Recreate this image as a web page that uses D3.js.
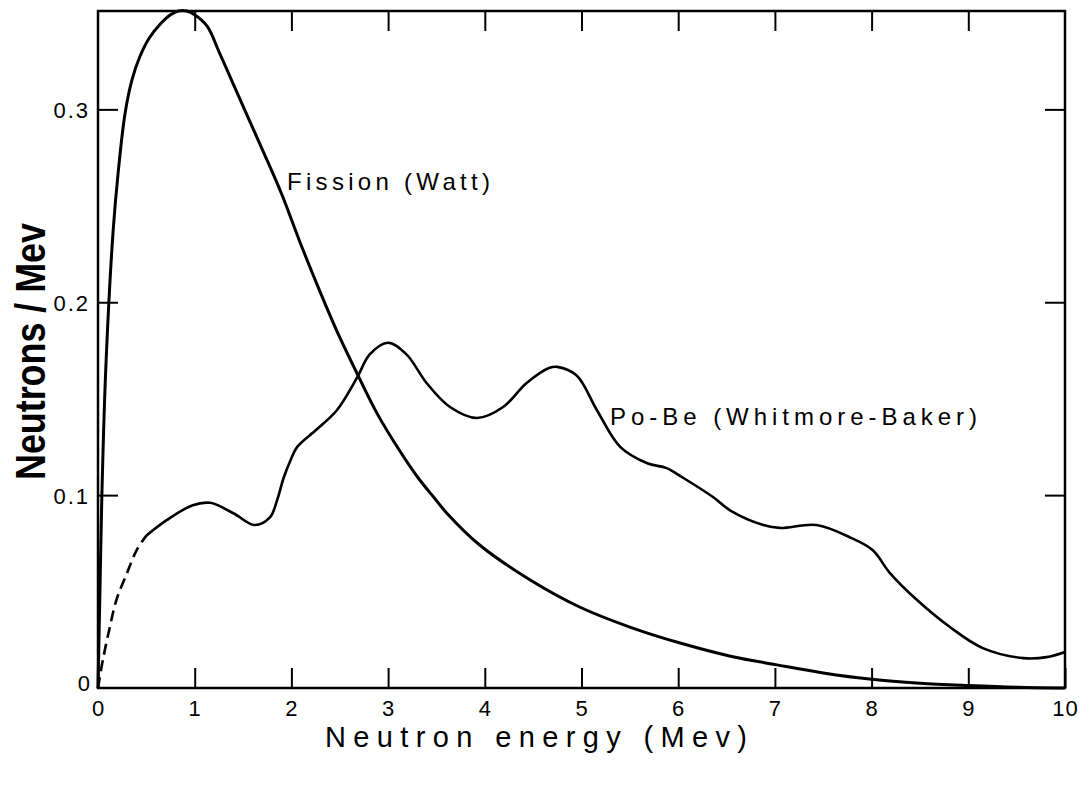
<!DOCTYPE html>
<html>
<head>
<meta charset="utf-8">
<script src="https://cdn.jsdelivr.net/npm/d3@7"></script>
<style>
  html, body { margin: 0; padding: 0; background: #fff; }
  svg { display: block; }
  text { font-family: "Liberation Sans", "DejaVu Sans", sans-serif; fill: #000; }
</style>
</head>
<body>
<svg id="chart" width="1088" height="789"></svg>
<script>
// ---- data ----
const xTicks = [0, 1, 2, 3, 4, 5, 6, 7, 8, 9, 10];
const xTickLabels = ["0", "1", "2", "3", "4", "5", "6", "7", "8", "9", "10"];
const yTicks = [0, 0.1, 0.2, 0.3];
const yTickLabels = ["0", "0.1", "0.2", "0.3"];

const fissionE = [0, 0.02, 0.04, 0.08, 0.155, 0.21, 0.28, 0.35, 0.43, 0.53, 0.64, 0.75, 0.83, 0.92, 1.0, 1.13, 1.25, 1.40, 1.55, 1.71, 1.9, 2.09, 2.3, 2.48, 2.68, 2.89, 3.12, 3.31, 3.47, 3.61, 3.95, 4.47, 4.98, 5.50, 6.02, 6.54, 7.02, 7.5, 8.0, 8.5, 9.0, 9.5, 10];
const fissionN = [0, 0.05, 0.1, 0.165, 0.236, 0.268, 0.298, 0.315, 0.327, 0.337, 0.344, 0.349, 0.351, 0.351, 0.349, 0.343, 0.330, 0.313, 0.296, 0.278, 0.256, 0.231, 0.205, 0.184, 0.163, 0.142, 0.123, 0.109, 0.099, 0.0905, 0.074, 0.056, 0.042, 0.0316, 0.0233, 0.0165, 0.012, 0.0078, 0.0045, 0.0025, 0.0013, 0.0004, 0];

const pobeDashE = [0, 0.05, 0.12, 0.19, 0.30, 0.40, 0.50];
const pobeDashN = [0, 0.0145, 0.031, 0.0456, 0.0596, 0.0715, 0.079];

const pobeE = [0.50, 0.71, 0.98, 1.16, 1.40, 1.62, 1.78, 1.85, 1.92, 1.99, 2.06, 2.26, 2.47, 2.68, 2.81, 3.0, 3.19, 3.40, 3.64, 3.92, 4.19, 4.43, 4.67, 4.75, 4.95, 5.16, 5.40, 5.68, 5.88, 6.05, 6.36, 6.54, 6.88, 7.05, 7.43, 7.78, 8.01, 8.19, 8.47, 8.81, 9.15, 9.57, 9.81, 10.0];
const pobeN = [0.079, 0.087, 0.0948, 0.096, 0.0906, 0.0845, 0.0886, 0.097, 0.109, 0.118, 0.125, 0.134, 0.144, 0.161, 0.173, 0.179, 0.173, 0.158, 0.1457, 0.140, 0.1457, 0.158, 0.166, 0.1665, 0.162, 0.144, 0.125, 0.1165, 0.114, 0.109, 0.099, 0.092, 0.0845, 0.083, 0.0845, 0.078, 0.0715, 0.0596, 0.0456, 0.0316, 0.0207, 0.0155, 0.016, 0.0187];

const xLabel = "Neutron energy (Mev)";
const yLabel = "Neutrons / Mev";
const fissionLabel = "Fission (Watt)";
const pobeLabel = "Po-Be (Whitmore-Baker)";

// ---- layout ----
const W = 1088, H = 789;
const margin = { left: 98, right: 23, top: 11, bottom: 101 };
const iw = W - margin.left - margin.right;
const ih = H - margin.top - margin.bottom;

const svg = d3.select("#chart");
const g = svg.append("g").attr("transform", `translate(${margin.left},${margin.top})`);

const x = d3.scaleLinear().domain([0, 10]).range([0, iw]);
const y = d3.scaleLinear().domain([0, 0.351]).range([ih, 0]);

const tickLen = 20;
const tickFont = "22px";

const styleAxis = sel => {
  sel.select(".domain").remove();
  sel.selectAll(".tick line").attr("stroke", "#000").attr("stroke-width", 2);
};

g.append("g").attr("transform", `translate(0,${ih})`)
  .call(d3.axisBottom(x).tickValues(xTicks).tickSize(-tickLen).tickPadding(0)
        .tickFormat((d, i) => xTickLabels[i]))
  .call(styleAxis)
  .call(s => s.attr("font-size", null).attr("font-family", null))
  .call(s => s.selectAll(".tick text").attr("y", 28).attr("dy", 0)
        .style("font-size", tickFont).style("letter-spacing", "1px"));

g.append("g")
  .call(d3.axisTop(x).tickValues(xTicks.slice(1, -1)).tickSize(-tickLen).tickFormat(""))
  .call(styleAxis);

g.append("g")
  .call(d3.axisLeft(y).tickValues(yTicks.slice(1)).tickSize(-tickLen).tickPadding(0)
        .tickFormat((d, i) => yTickLabels[i + 1]))
  .call(styleAxis)
  .call(s => s.attr("font-size", null).attr("font-family", null))
  .call(s => s.selectAll(".tick text").attr("x", -8).attr("dy", "0.36em")
        .style("font-size", tickFont).style("letter-spacing", "2px"));

g.append("text").attr("x", -8).attr("y", y(0) - 5).attr("text-anchor", "end")
  .attr("dy", "0.36em").style("font-size", tickFont).text(yTickLabels[0]);

g.append("g").attr("transform", `translate(${iw},0)`)
  .call(d3.axisRight(y).tickValues(yTicks.slice(1)).tickSize(-tickLen).tickFormat(""))
  .call(styleAxis);

g.append("rect").attr("x", 0).attr("y", 0).attr("width", iw).attr("height", ih)
  .attr("fill", "none").attr("stroke", "#000").attr("stroke-width", 2.5);

// curves
const line = d3.line().x(d => x(d[0])).y(d => y(d[1])).curve(d3.curveCatmullRom.alpha(0.5));

g.append("path").datum(d3.zip(fissionE, fissionN)).attr("d", line)
  .attr("fill", "none").attr("stroke", "#000").attr("stroke-width", 3)
  .attr("stroke-linejoin", "round");

g.append("path").datum(d3.zip(pobeE, pobeN)).attr("d", line)
  .attr("fill", "none").attr("stroke", "#000").attr("stroke-width", 2.6)
  .attr("stroke-linejoin", "round");

g.append("path").datum(d3.zip(pobeDashE, pobeDashN)).attr("d", line)
  .attr("fill", "none").attr("stroke", "#000").attr("stroke-width", 2.6)
  .attr("stroke-dasharray", "11,6");

// curve labels
svg.append("text").attr("x", 287).attr("y", 190)
  .attr("textLength", 203).attr("lengthAdjust", "spacing")
  .style("font-size", "24px").text(fissionLabel);

svg.append("text").attr("x", 610).attr("y", 425)
  .attr("textLength", 367).attr("lengthAdjust", "spacing")
  .style("font-size", "24px").text(pobeLabel);

// axis titles
svg.append("text").attr("x", 325).attr("y", 747)
  .attr("textLength", 422).attr("lengthAdjust", "spacing")
  .style("font-size", "29px").text(xLabel);

svg.append("text")
  .attr("transform", "translate(45,480) rotate(-90)")
  .attr("textLength", 257).attr("lengthAdjust", "spacingAndGlyphs")
  .style("font-size", "42px").style("font-weight", "bold").text(yLabel);
</script>
</body>
</html>
